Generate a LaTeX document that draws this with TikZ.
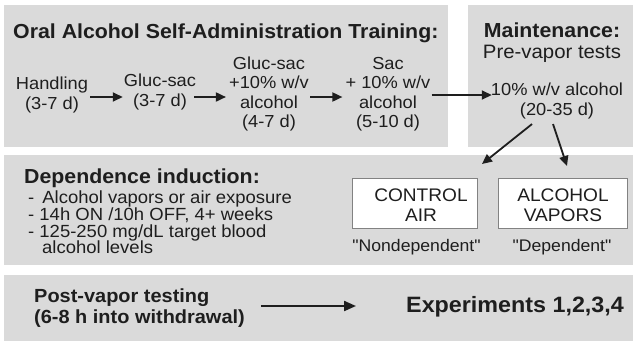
\documentclass[tikz,border=0pt]{standalone}
\usepackage{fontspec}
\setmainfont{Liberation Sans}[FakeStretch=1.05]
\newfontfamily\qfont{Liberation Sans}[FakeStretch=1.05, Ligatures=TeXOff]
\usetikzlibrary{arrows.meta,calc}
\definecolor{panel}{RGB}{218,218,218}
\definecolor{ink}{RGB}{30,30,30}
\definecolor{boxline}{RGB}{130,130,130}
\newcommand\fsz[2]{\fontsize{#1}{#2}\selectfont}
\begin{document}
\begin{tikzpicture}[x=1pt,y=-1pt,
  txt/.style={inner sep=0pt, align=center, text=ink},
  ltxt/.style={inner sep=0pt, align=left, text=ink},
  head/.style={font=\bfseries\fsz{20.3}{24}},
  body/.style={font=\fsz{17.4}{19.5}},
  bul/.style={ltxt, anchor=base west, font=\fsz{17.6}{19}},
  whitebox/.style={draw=boxline, line width=0.8pt, fill=white, inner sep=0pt},
  arr/.style={draw=ink, line width=1.8pt, -{Triangle[length=10pt,width=9pt]}},
  arrL/.style={draw=ink, line width=2.2pt, -{Triangle[length=12pt,width=10pt]}}]
\useasboundingbox (0,0) rectangle (633,341);
% panels
\fill[panel] (4,5) rectangle (448,147);
\fill[panel] (468,5) rectangle (633,147);
\fill[panel] (4,155) rectangle (633,265);
\fill[panel] (4,275) rectangle (633,341);
% top-left panel
\node[txt, head, anchor=base west] (title) at (13,38) {Oral Alcohol Self-Administration Training:};
\node[txt, body] (hand) at (52,95) {Handling\\(3-7 d)};
\node[txt, body] (gs1) at (160,92) {Gluc-sac\\(3-7 d)};
\node[txt, body] (gs2) at (269,94) {Gluc-sac\\+10\% w/v\\alcohol\\(4-7 d)};
\node[txt, body] (sac) at (388,94) {Sac\\+ 10\% w/v\\alcohol\\(5-10 d)};
\coordinate (row) at (0,97);
\coordinate (row4) at (0,95);
\draw[arr] ([xshift=2pt]hand.east |- row) -- ([xshift=-1pt]gs1.west |- row);
\draw[arr] ([xshift=-2pt]gs1.east |- row) -- ([xshift=-3pt]gs2.west |- row);
\draw[arr] ([xshift=1pt]gs2.east |- row) -- ([xshift=-3pt]sac.west |- row);
% top-right panel
\node[txt, head, anchor=base] (mt) at (552,37) {Maintenance:};
\node[txt, font=\fsz{19.4}{22}, anchor=base] (mpre) at (552,58) {Pre-vapor tests};
\node[txt, body] (m10) at (557,101) {10\% w/v alcohol\\(20-35 d)};
\draw[arr] ([xshift=1pt]sac.east |- row4) -- ([xshift=1pt]m10.west |- row4);
% middle panel
\node[ltxt, head, anchor=base west] (dep) at (24,183) {Dependence induction:};
\node[bul] (b1) at (28,203) {-\hspace{8pt}Alcohol vapors or air exposure};
\node[bul] (b2) at (28,220) {- 14h ON /10h OFF, 4+ weeks};
\node[bul] (b3) at (28,237) {- 125-250 mg/dL target blood};
\node[bul] (b4) at (42,253) {alcohol levels};
\node[whitebox, minimum width=125pt, minimum height=50pt] (ctrl) at (414.5,203) {};
\node[txt, font=\fsz{18.2}{20}] (ctrlt) at (421,205) {CONTROL\\AIR};
\node[whitebox, minimum width=129pt, minimum height=50pt] (alc) at (562.5,203) {};
\node[txt, font=\fsz{18.2}{20}] (alct) at (563,205) {ALCOHOL\\VAPORS};
\node[txt, font=\qfont\fsz{16.8}{19}] (nd) at (416.5,247) {"Nondependent"};
\node[txt, font=\qfont\fsz{16.8}{19}] (dd) at (562,247) {"Dependent"};
\coordinate (tipL) at (482,164);
\coordinate (tipR) at (567,166);
\draw[arr] ($(m10.south)+(-25,5)$) -- (tipL);
\draw[arr] ($(m10.south)+(-4,5)$) -- (tipR);
% bottom panel
\node[ltxt, font=\bfseries\fsz{19}{21}, anchor=west] (post) at (34,308) {Post-vapor testing\\(6-8 h into withdrawal)};
\node[txt, font=\bfseries\fsz{22.2}{26}, anchor=west] (exp) at (406,307) {Experiments 1,2,3,4};
\coordinate (row5) at (0,306);
\draw[arrL] ([xshift=16pt]post.east |- row5) -- ([xshift=-50pt]exp.west |- row5);
\end{tikzpicture}
\end{document}
